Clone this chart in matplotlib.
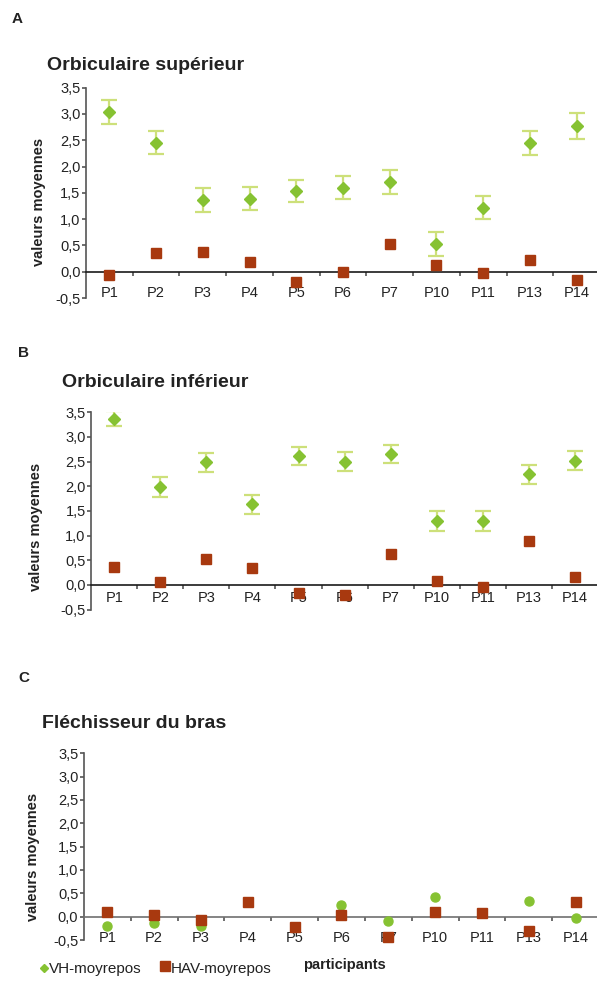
import matplotlib
matplotlib.use('Agg')
import matplotlib.pyplot as plt
from matplotlib.ticker import FixedLocator, FuncFormatter

plt.rcParams['font.family'] = ['Liberation Sans', 'DejaVu Sans']

W, H = 597, 982

participants = ['P1', 'P2', 'P3', 'P4', 'P5', 'P6', 'P7', 'P10', 'P11', 'P13', 'P14']

# A - orbiculaire superieur
vh_sup = [3.03, 2.45, 1.36, 1.39, 1.53, 1.60, 1.70, 0.52, 1.22, 2.45, 2.77]
vh_sup_err = [0.23, 0.22, 0.23, 0.22, 0.21, 0.22, 0.23, 0.23, 0.22, 0.23, 0.24]
hav_sup = [-0.06, 0.35, 0.38, 0.18, -0.20, -0.01, 0.53, 0.12, -0.02, 0.22, -0.16]

# B - orbiculaire inferieur
vh_inf = [3.37, 1.99, 2.48, 1.63, 2.61, 2.50, 2.65, 1.30, 1.30, 2.24, 2.52]
vh_inf_err = [0.15, 0.20, 0.20, 0.19, 0.19, 0.19, 0.18, 0.20, 0.20, 0.19, 0.19]
hav_inf = [0.36, 0.07, 0.52, 0.34, -0.17, -0.20, 0.62, 0.08, -0.05, 0.89, 0.16]

# C - flechisseur du bras
vh_bras = [-0.19, -0.13, -0.21, 0.32, -0.23, 0.25, -0.09, 0.43, 0.07, 0.34, -0.03]
hav_bras = [0.09, 0.04, -0.07, 0.32, -0.23, 0.04, -0.44, 0.09, 0.07, -0.30, 0.31]

GREEN = '#86c232'
GREEN_ERR = '#cde07a'
RED = '#a8390f'
TXT = '#222222'


def px_axes(fig, left, right, top, bottom):
    return fig.add_axes([left / W, 1 - bottom / H, (right - left) / W, (bottom - top) / H])


def style_axis(ax, pad, zero_color):
    x = range(len(participants))
    ax.set_xlim(-0.5, len(participants) - 0.5)
    ax.set_ylim(-0.5, 3.5)
    ax.spines['top'].set_visible(False)
    ax.spines['right'].set_visible(False)
    ax.spines['bottom'].set_position(('data', 0))
    ax.spines['bottom'].set_color(zero_color)
    ax.spines['bottom'].set_linewidth(1.2)
    ax.spines['left'].set_color('#555555')
    ax.spines['left'].set_linewidth(1.2)
    ax.set_xticks(list(x))
    ax.set_xticklabels(participants)
    ax.xaxis.set_minor_locator(FixedLocator([i + 0.5 for i in x][:-1]))
    ax.tick_params(axis='x', which='major', length=0, pad=pad, labelsize=10.5, labelcolor=TXT)
    ax.tick_params(axis='x', which='minor', length=3, width=1.2, color='#555555', direction='out')
    yt = [-0.5 + 0.5 * i for i in range(9)]
    ax.set_yticks(yt)
    ax.yaxis.set_major_formatter(FuncFormatter(lambda v, p: ('%.1f' % v).replace('.', ',')))
    ax.tick_params(axis='y', length=3, width=1.2, color='#555555', pad=1, labelsize=10.5, labelcolor=TXT)


fig = plt.figure(figsize=(W / 100, H / 100), dpi=100)
x = list(range(len(participants)))

# panel A
axA = px_axes(fig, 86, 600, 87.6, 298)
style_axis(axA, 10, '#1a1a1a')
axA.errorbar(x, vh_sup, yerr=vh_sup_err, fmt='none', ecolor=GREEN_ERR, elinewidth=1.6,
             capsize=5.5, capthick=1.6, zorder=2)
axA.plot(x, vh_sup, 'D', color=GREEN, markersize=6.5, zorder=3, clip_on=False)
axA.plot(x, hav_sup, 's', color=RED, markersize=7.5, zorder=3, clip_on=False)

# panel B
axB = px_axes(fig, 91.2, 598, 412.1, 609.7)
style_axis(axB, 4, '#1a1a1a')
axB.errorbar(x, vh_inf, yerr=vh_inf_err, fmt='none', ecolor=GREEN_ERR, elinewidth=1.6,
             capsize=5.5, capthick=1.6, zorder=2)
axB.plot(x, vh_inf, 'D', color=GREEN, markersize=6.5, zorder=3, clip_on=False)
axB.plot(x, hav_inf, 's', color=RED, markersize=7.5, zorder=3, clip_on=False)

# panel C
axC = px_axes(fig, 83.9, 599, 753.3, 940)
style_axis(axC, 10, '#707070')
axC.plot(x, vh_bras, 'o', color=GREEN, markersize=6.5, zorder=3, clip_on=False)
axC.plot(x, hav_bras, 's', color=RED, markersize=7.5, zorder=3.1, clip_on=False)

# texts
def ftext(px, py, s, **kw):
    fig.text(px / W, 1 - py / H, s, **kw)

ftext(12, 23, 'A', fontsize=11, fontweight='bold', color=TXT)
ftext(47, 70, 'Orbiculaire supérieur', fontsize=14, fontweight='bold', color=TXT, va='baseline')
ftext(18, 357, 'B', fontsize=11, fontweight='bold', color=TXT)
ftext(62, 387, 'Orbiculaire inférieur', fontsize=14, fontweight='bold', color=TXT, va='baseline')
ftext(18, 682, 'C', fontsize=11, fontweight='bold', color=TXT)
ftext(42, 728, 'Fléchisseur du bras', fontsize=14, fontweight='bold', color=TXT, va='baseline')

for cx, cy in [(39, 202), (36, 527), (33, 857)]:
    ftext(cx, cy, 'valeurs moyennes', fontsize=10.5, fontweight='bold', color=TXT,
          rotation=90, ha='center', va='center')

ftext(303, 965, 'participants', fontsize=10.5, fontweight='bold', color=TXT, va='center')

# legend
fig.lines.append(plt.Line2D([44 / W], [1 - 968 / H], marker='D', color=GREEN, markersize=4.5,
                            linestyle='none', transform=fig.transFigure))
ftext(49, 969, 'VH-moyrepos', fontsize=11, color=TXT, va='center')
fig.lines.append(plt.Line2D([165 / W], [1 - 966 / H], marker='s', color=RED, markersize=7,
                            linestyle='none', transform=fig.transFigure))
ftext(171, 969, 'HAV-moyrepos', fontsize=11, color=TXT, va='center')

fig.savefig('out.png', dpi=100)
